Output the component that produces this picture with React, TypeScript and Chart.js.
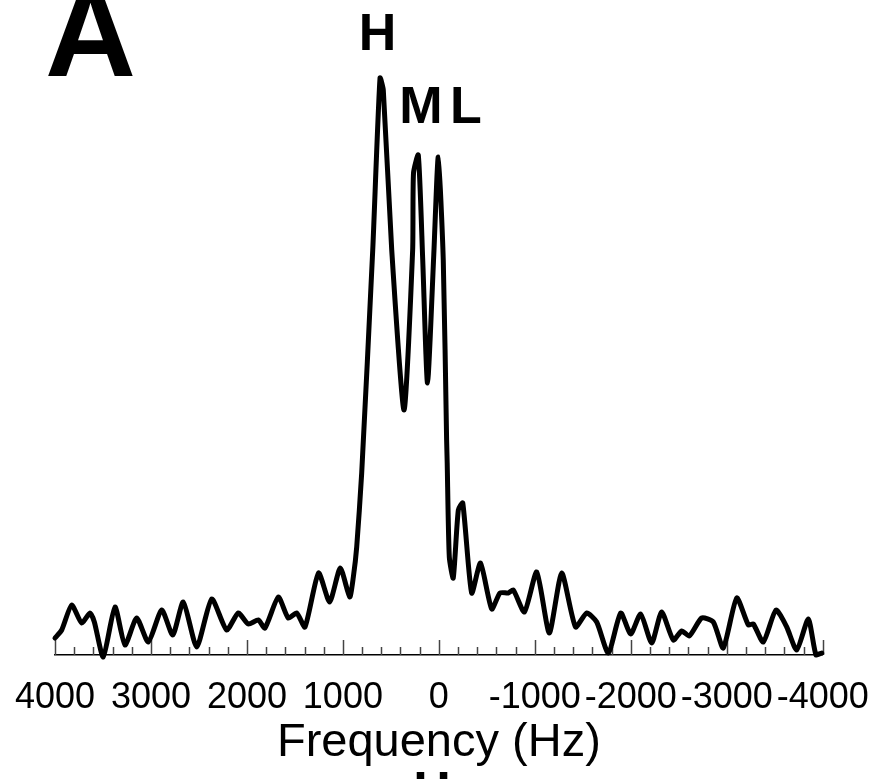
import React, { useEffect, useRef } from 'react';
import { Chart, registerables } from 'chart.js';

Chart.register(...registerables);

// Spectrum: frequency offset (Hz) and signal intensity (arbitrary units)
const frequencyHz = [
  4000, 3930, 3826, 3722, 3635, 3590, 3497, 3375, 3271, 3149, 3028, 2888, 2773, 2663, 2523, 2367,
  2211, 2090, 1986, 1881, 1812, 1673, 1569, 1481, 1395, 1254, 1138, 1027, 929, 891, 856, 804,
  689, 613, 579, 491, 363, 273, 264, 214, 168, 118, 53, 6, -46, -81, -87, -109, -150, -203, -249,
  -342, -434, -551, -637, -724, -776, -892, -1020, -1151, -1280, -1424, -1541, -1645, -1766, -1895,
  -1999, -2103, -2218, -2322, -2443, -2531, -2610, -2739, -2860, -2964, -3104, -3225, -3277, -3381,
  -3513, -3625, -3729, -3850, -3930, -3990,
];
const intensity = [
  17, 25, 50, 32, 42, 33, -2, 48, 10, 37, 13, 45, 20, 53, 8, 56,
  25, 42, 31, 35, 27, 58, 37, 42, 28, 82, 53, 87, 58, 78, 108, 182,
  405, 577, 565, 405, 245, 405, 482, 500, 395, 272, 400, 498, 395, 215, 192, 98, 77, 145, 152,
  62, 92, 46, 62, 62, 65, 43, 83, 22, 82, 28, 42, 33, 2, 42,
  21, 41, 12, 43, 15, 24, 19, 37, 33, 7, 57, 30, 31, 13,
  45, 28, 5, 36, 0, 2,
];
const majorTickValues = [4000, 3000, 2000, 1000, 0, -1000, -2000, -3000, -4000];
const minorTickStepHz = 200;
const axisTitle = 'Frequency (Hz)';
const panelLabel = 'A';
const peakLabels = ['H', 'M', 'L'];
const nextPanelPeakLabel = 'H';

const FONT = "'Liberation Sans', Arial, Helvetica, sans-serif";

const ticksPlugin = {
  id: 'innerTicks',
  beforeDatasetsDraw(chart: any) {
    const xs = chart.scales.x;
    const ctx = chart.ctx;
    const y0 = chart.chartArea.bottom;
    ctx.save();
    ctx.strokeStyle = '#444';
    ctx.lineWidth = 1.5;
    for (let v = -4000; v <= 4000; v += minorTickStepHz) {
      const px = Math.round(xs.getPixelForValue(v)) + 0.5;
      const len = majorTickValues.includes(v) ? 15 : 8;
      ctx.beginPath();
      ctx.moveTo(px, y0);
      ctx.lineTo(px, y0 - len);
      ctx.stroke();
    }
    ctx.restore();
  },
};

const textPlugin = {
  id: 'panelText',
  afterDraw(chart: any) {
    const ctx = chart.ctx;
    ctx.save();
    ctx.fillStyle = '#000';
    ctx.textBaseline = 'alphabetic';
    ctx.textAlign = 'left';
    ctx.font = `bold 126px ${FONT}`;
    ctx.fillText(panelLabel, 45, 76);
    ctx.textAlign = 'center';
    ctx.font = `bold 52px ${FONT}`;
    ctx.fillText(peakLabels[0], 377.5, 50);
    ctx.fillText(peakLabels[1], 421, 123);
    ctx.fillText(peakLabels[2], 466, 123);
    ctx.fillText(nextPanelPeakLabel, 432, 808);
    ctx.restore();
  },
};

export default function App() {
  const canvasRef = useRef<HTMLCanvasElement | null>(null);

  useEffect(() => {
    if (!canvasRef.current) return;
    const points = frequencyHz.map((f, i) => ({ x: f, y: intensity[i] }));
    const chart = new Chart(canvasRef.current, {
      type: 'line',
      data: {
        datasets: [
          {
            data: points,
            borderColor: '#000',
            borderWidth: 5,
            pointRadius: 0,
            tension: 0.2,
            borderJoinStyle: 'round',
            borderCapStyle: 'round',
            fill: false,
            clip: false,
          } as any,
        ],
      },
      options: {
        responsive: false,
        animation: false,
        layout: { padding: { left: 55, right: 53.3, top: 0, bottom: 0 } },
        plugins: { legend: { display: false }, tooltip: { enabled: false } },
        scales: {
          x: {
            type: 'linear',
            reverse: true,
            min: -4000,
            max: 4000,
            afterBuildTicks: (scale: any) => {
              scale.ticks = majorTickValues.map((v) => ({ value: v }));
            },
            afterFit: (scale: any) => {
              scale.paddingLeft = 0;
              scale.paddingRight = 0;
              scale.paddingTop = 0;
              scale.paddingBottom = 0;
              scale.height = 124;
            },
            grid: { display: false, drawTicks: false },
            border: { display: true, color: '#000', width: 1.5 },
            ticks: {
              autoSkip: false,
              maxRotation: 0,
              minRotation: 0,
              padding: 25,
              color: '#000',
              font: { family: FONT, size: 36, lineHeight: 1 },
              callback: (v: any) => String(v),
            },
            title: {
              display: true,
              text: axisTitle,
              color: '#000',
              font: { family: FONT, size: 47, lineHeight: 1 },
              padding: { top: 0, bottom: 12 },
            },
          },
          y: {
            display: false,
            min: 0,
            max: 655,
          },
        },
      },
      plugins: [ticksPlugin, textPlugin],
    });
    return () => chart.destroy();
  }, []);

  return (
    <div style={{ position: 'absolute', left: 0, top: 0, width: 876, height: 779, background: '#fff' }}>
      <canvas ref={canvasRef} width={876} height={779} style={{ display: 'block' }} />
    </div>
  );
}
